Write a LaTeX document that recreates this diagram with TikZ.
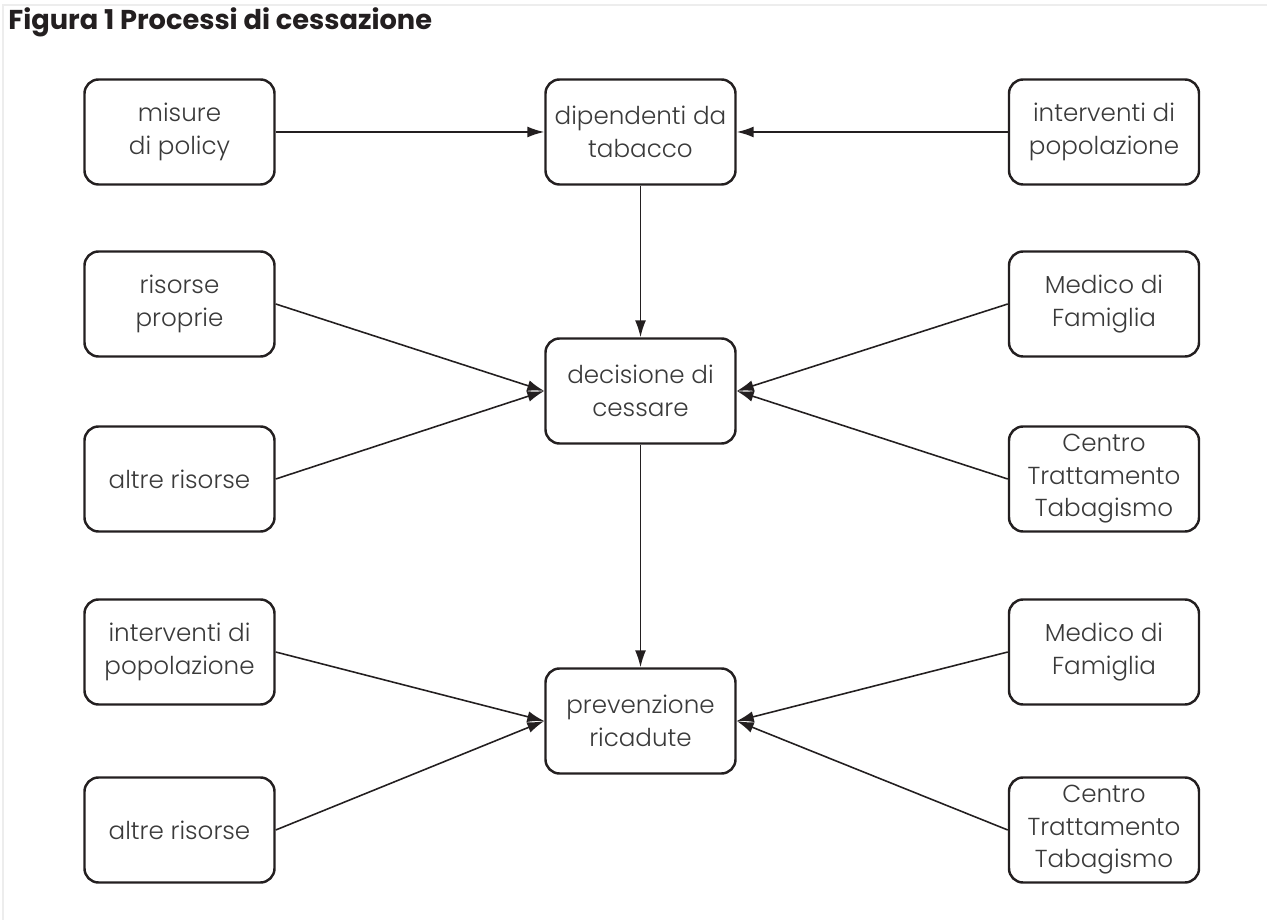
\documentclass[tikz,border=0pt]{standalone}
\usepackage{fontspec}
\setmainfont{Poppins}[UprightFont=* Light, BoldFont=* Bold]
\usepackage{tikz}
\usetikzlibrary{arrows.meta,positioning}
\definecolor{FlowInk}{HTML}{231F20}
\definecolor{FlowText}{HTML}{3A3A3A}
\definecolor{FlowFrame}{HTML}{EDEDED}

\begin{document}
\begin{tikzpicture}[
    block/.style={
      draw=FlowInk,
      line width=1.4pt,
      fill=white,
      minimum width=3.8cm,
      minimum height=2.1cm,
      rounded corners=8pt,
      align=center,
      text=FlowText,
      font=\fontsize{14}{18.5}\selectfont
    },
    feed/.style={
      line width=0.9pt,
      color=FlowInk,
      -{Latex[length=3.4mm,width=2.2mm]}
    }
  ]

  \useasboundingbox (0,0) rectangle (25.34,-18.4);
  \draw[FlowFrame,line width=0.6pt] (0.06,-18.4) -- (0.06,-0.1) -- (25.34,-0.1);

  % Title
  \node[anchor=base west,font=\fontsize{15.5}{18}\selectfont\bfseries,
        text=FlowInk,inner sep=0pt] (title) at (0.16,-0.6)
    {Figura 1 Processi di cessazione};

  % Centre column
  \node[block] (dip) at (12.81,-2.64) {dipendenti da\\tabacco};
  \node[block] (dec) at (12.81,-7.82) {decisione di\\cessare};
  \node[block] (prev) at (12.81,-14.42) {prevenzione\\ricadute};

  % Left column
  \node[block] (pol) at (3.59,-2.64) {misure\\di policy};
  \node[block] (risp) at (3.59,-6.08) {risorse\\proprie};
  \node[block] (alt1) at (3.59,-9.58) {altre risorse};
  \node[block] (intl) at (3.59,-13.04) {interventi di\\popolazione};
  \node[block] (alt2) at (3.59,-16.6) {altre risorse};

  % Right column
  \node[block] (intr) at (22.08,-2.64) {interventi di\\popolazione};
  \node[block] (med1) at (22.08,-6.08) {Medico di\\Famiglia};
  \node[block] (ctt1) at (22.08,-9.58) {Centro\\Trattamento\\Tabagismo};
  \node[block] (med2) at (22.08,-13.04) {Medico di\\Famiglia};
  \node[block] (ctt2) at (22.08,-16.6) {Centro\\Trattamento\\Tabagismo};

  % Links
  \draw[feed] (pol) -- (dip);
  \draw[feed] (intr) -- (dip);
  \draw[feed] (dip) -- (dec);
  \draw[feed] (dec) -- (prev);
  \draw[feed] (risp.east) -- (dec.west);
  \draw[feed] (alt1.east) -- (dec.west);
  \draw[feed] (med1.west) -- (dec.east);
  \draw[feed] (ctt1.west) -- (dec.east);
  \draw[feed] (intl.east) -- (prev.west);
  \draw[feed] (alt2.east) -- (prev.west);
  \draw[feed] (med2.west) -- (prev.east);
  \draw[feed] (ctt2.west) -- (prev.east);

\end{tikzpicture}
\end{document}
